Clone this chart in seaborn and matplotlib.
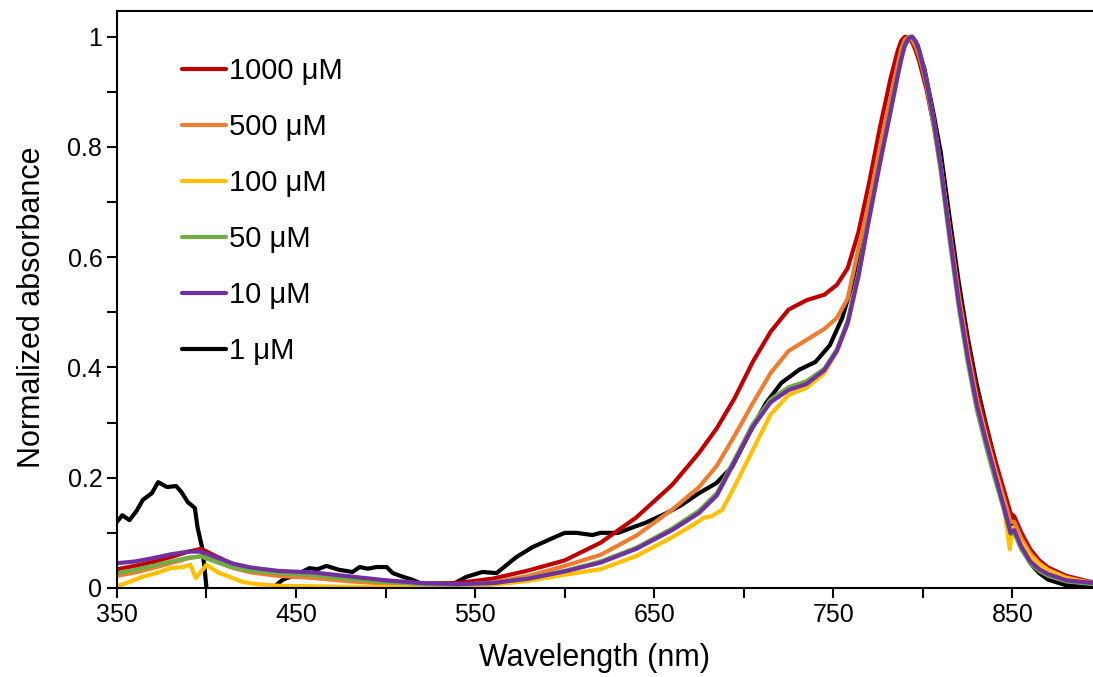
import matplotlib
matplotlib.use("Agg")
import matplotlib.pyplot as plt
import seaborn as sns
import pandas as pd

# wavelength grid shared by the smooth spectra (nm)
wl = [350, 360, 370, 380, 390, 397, 405, 415, 425, 440, 460, 480, 500, 520, 540,
      560, 580, 600, 620, 640, 660, 675, 685, 695, 705, 715, 725, 735, 745, 752,
      758, 764, 770, 776, 782, 786, 788, 790, 792, 794, 796, 798, 802, 806, 810,
      815, 820, 825, 830, 835, 840, 845, 849, 851, 855, 860, 865, 870, 880, 895]

abs_1000 = [0.034, 0.040, 0.047, 0.056, 0.066, 0.071, 0.058, 0.043, 0.034, 0.026, 0.020,
            0.014, 0.010, 0.008, 0.009, 0.017, 0.032, 0.050, 0.082, 0.128, 0.187, 0.245,
            0.290, 0.345, 0.410, 0.465, 0.505, 0.522, 0.532, 0.550, 0.580, 0.645, 0.735,
            0.835, 0.925, 0.975, 0.993, 1.000, 0.998, 0.990, 0.975, 0.955, 0.905, 0.840,
            0.765, 0.650, 0.540, 0.445, 0.360, 0.295, 0.235, 0.180, 0.135, 0.130, 0.100,
            0.070, 0.050, 0.037, 0.022, 0.010]

abs_500 = [0.022, 0.028, 0.036, 0.045, 0.054, 0.058, 0.048, 0.036, 0.028, 0.022, 0.018,
           0.012, 0.008, 0.005, 0.005, 0.010, 0.022, 0.040, 0.060, 0.095, 0.142, 0.183,
           0.222, 0.277, 0.335, 0.390, 0.430, 0.450, 0.470, 0.490, 0.525, 0.615, 0.700,
           0.800, 0.890, 0.950, 0.978, 0.995, 1.000, 0.995, 0.982, 0.965, 0.915, 0.845,
           0.765, 0.645, 0.530, 0.430, 0.345, 0.280, 0.220, 0.165, 0.120, 0.120, 0.090,
           0.063, 0.045, 0.033, 0.019, 0.009]

abs_50 = [0.027, 0.033, 0.040, 0.048, 0.055, 0.057, 0.048, 0.037, 0.031, 0.027, 0.023,
          0.016, 0.011, 0.007, 0.006, 0.009, 0.018, 0.031, 0.048, 0.073, 0.108, 0.140,
          0.172, 0.234, 0.297, 0.342, 0.364, 0.375, 0.398, 0.433, 0.485, 0.570, 0.675,
          0.775, 0.870, 0.935, 0.965, 0.988, 0.998, 1.000, 0.990, 0.970, 0.915, 0.840,
          0.755, 0.630, 0.510, 0.410, 0.325, 0.260, 0.200, 0.145, 0.098, 0.100, 0.070,
          0.045, 0.031, 0.022, 0.012, 0.007]

abs_10 = [0.045, 0.048, 0.054, 0.061, 0.066, 0.066, 0.056, 0.044, 0.037, 0.031, 0.028,
          0.021, 0.014, 0.009, 0.007, 0.009, 0.017, 0.030, 0.046, 0.071, 0.105, 0.136,
          0.168, 0.230, 0.292, 0.337, 0.359, 0.370, 0.395, 0.430, 0.480, 0.565, 0.670,
          0.770, 0.865, 0.930, 0.960, 0.985, 0.997, 1.000, 0.992, 0.975, 0.920, 0.850,
          0.765, 0.640, 0.520, 0.420, 0.335, 0.270, 0.210, 0.150, 0.100, 0.105, 0.075,
          0.048, 0.034, 0.025, 0.014, 0.009]

wl_100 = [350, 357, 364, 372, 380, 387, 391, 394, 397, 400, 406, 413, 420, 428, 440,
          460, 480, 500, 520, 540, 560, 580, 600, 620, 640, 660, 672, 678, 682, 688,
          695, 705, 715, 725, 735, 745, 752, 758, 764, 770, 776, 782, 786, 788, 790,
          792, 794, 796, 798, 802, 806, 810, 815, 820, 825, 830, 835, 840, 845, 848.5,
          850, 855, 860, 865, 870, 880, 895]
abs_100 = [0.003, 0.011, 0.020, 0.027, 0.036, 0.038, 0.042, 0.018, 0.030, 0.042, 0.029,
           0.020, 0.011, 0.007, 0.004, 0.003, 0.002, 0.002, 0.002, 0.002, 0.006, 0.013,
           0.024, 0.034, 0.058, 0.092, 0.115, 0.128, 0.130, 0.142, 0.185, 0.250, 0.315,
           0.350, 0.363, 0.390, 0.430, 0.480, 0.565, 0.670, 0.770, 0.865, 0.930, 0.960,
           0.985, 0.997, 1.000, 0.990, 0.975, 0.920, 0.850, 0.765, 0.640, 0.525, 0.425,
           0.340, 0.275, 0.215, 0.155, 0.070, 0.110, 0.082, 0.058, 0.043, 0.032, 0.018,
           0.008]

wl_1 = [350, 353, 357, 361, 364.5, 369.5, 373, 378, 383, 386, 389.5, 393.5, 395, 397.5,
        399, 400, 402, 410, 425, 437, 442.6, 450, 457.6, 462, 467, 474, 481.6, 485.5,
        490, 495, 500.6, 504, 510, 515, 519, 525, 537, 545, 554, 562, 573, 582, 595,
        600, 606.6, 615.5, 620, 630, 638, 645, 657, 665, 675, 684.6, 693.5, 703, 712.5,
        721, 731, 740, 748, 755, 760, 766, 772, 778, 784, 789, 793, 797, 801, 806, 810,
        815, 820, 825, 830, 835, 840, 845, 850, 855, 860, 865, 870, 880, 895]
abs_1 = [0.120, 0.132, 0.123, 0.140, 0.160, 0.172, 0.192, 0.183, 0.185, 0.174, 0.156,
         0.145, 0.110, 0.074, 0.033, 0.000, -0.050, -0.080, -0.060, 0.000, 0.015, 0.024,
         0.036, 0.034, 0.040, 0.033, 0.029, 0.038, 0.035, 0.038, 0.038, 0.027, 0.020,
         0.015, 0.009, 0.006, 0.006, 0.020, 0.029, 0.027, 0.056, 0.074, 0.093, 0.100,
         0.100, 0.096, 0.100, 0.100, 0.110, 0.118, 0.136, 0.150, 0.172, 0.190, 0.220,
         0.280, 0.336, 0.372, 0.396, 0.410, 0.440, 0.490, 0.545, 0.630, 0.720, 0.820,
         0.910, 0.980, 1.000, 0.985, 0.940, 0.860, 0.790, 0.670, 0.555, 0.455, 0.370,
         0.300, 0.235, 0.170, 0.115, 0.075, 0.045, 0.027, 0.015, 0.005, 0.002]

labels = ["1000 μM", "500 μM", "100 μM", "50 μM", "10 μM", "1 μM"]
colors = ["#C00000", "#ED7D31", "#FFC000", "#70AD47", "#7030A0", "#000000"]

series = {
    "1000 μM": (wl, abs_1000),
    "500 μM": (wl, abs_500),
    "100 μM": (wl_100, abs_100),
    "50 μM": (wl, abs_50),
    "10 μM": (wl, abs_10),
    "1 μM": (wl_1, abs_1),
}

sns.set_style("ticks")
plt.rcParams["font.family"] = ["Liberation Sans", "DejaVu Sans"]
plt.rcParams["text.color"] = "black"
plt.rcParams["axes.labelcolor"] = "black"

fig = plt.figure(figsize=(10.93, 6.77), dpi=100)
ax = fig.add_axes([0.107, 0.1315, 0.893, 0.8525])

# black drawn first so the colored spectra sit on top of it
draw_order = ["1 μM", "1000 μM", "500 μM", "100 μM", "50 μM", "10 μM"]
for name in draw_order:
    x, y = series[name]
    df = pd.DataFrame({"wl": x, "abs": y})
    sns.lineplot(data=df, x="wl", y="abs", ax=ax, color=colors[labels.index(name)],
                 linewidth=3, label=name, sort=False, estimator=None)

ax.set_xlim(350, 895)
ax.set_ylim(0, 1.047)
ax.set_xticks(range(350, 900, 50))
ax.set_xticklabels([str(v) if (v - 350) % 100 == 0 else "" for v in range(350, 900, 50)])
yt = [i / 10 for i in range(11)]
ax.set_yticks(yt)
ax.set_yticklabels(["0", "", "0.2", "", "0.4", "", "0.6", "", "0.8", "", "1"])
ax.tick_params(direction="out", length=7, width=1.5, labelsize=18, colors="black")

for side in ["left", "bottom", "top"]:
    ax.spines[side].set_linewidth(1.5)
    ax.spines[side].set_color("black")
ax.spines["right"].set_visible(False)

ax.set_xlabel("Wavelength (nm)", fontsize=22, labelpad=12)
ax.set_ylabel("Normalized absorbance", fontsize=22, labelpad=15)
ax.xaxis.label.set_x(0.489)
ax.yaxis.label.set_y(0.486)

handles, lbls = ax.get_legend_handles_labels()
hmap = dict(zip(lbls, handles))
ax.legend([hmap[l] for l in labels], labels, loc="upper left",
          bbox_to_anchor=(0.055, 0.94), frameon=False, fontsize=21,
          handlelength=1.5, handletextpad=0.1, labelspacing=0.96, borderaxespad=0)

fig.savefig("out.png", dpi=100)
